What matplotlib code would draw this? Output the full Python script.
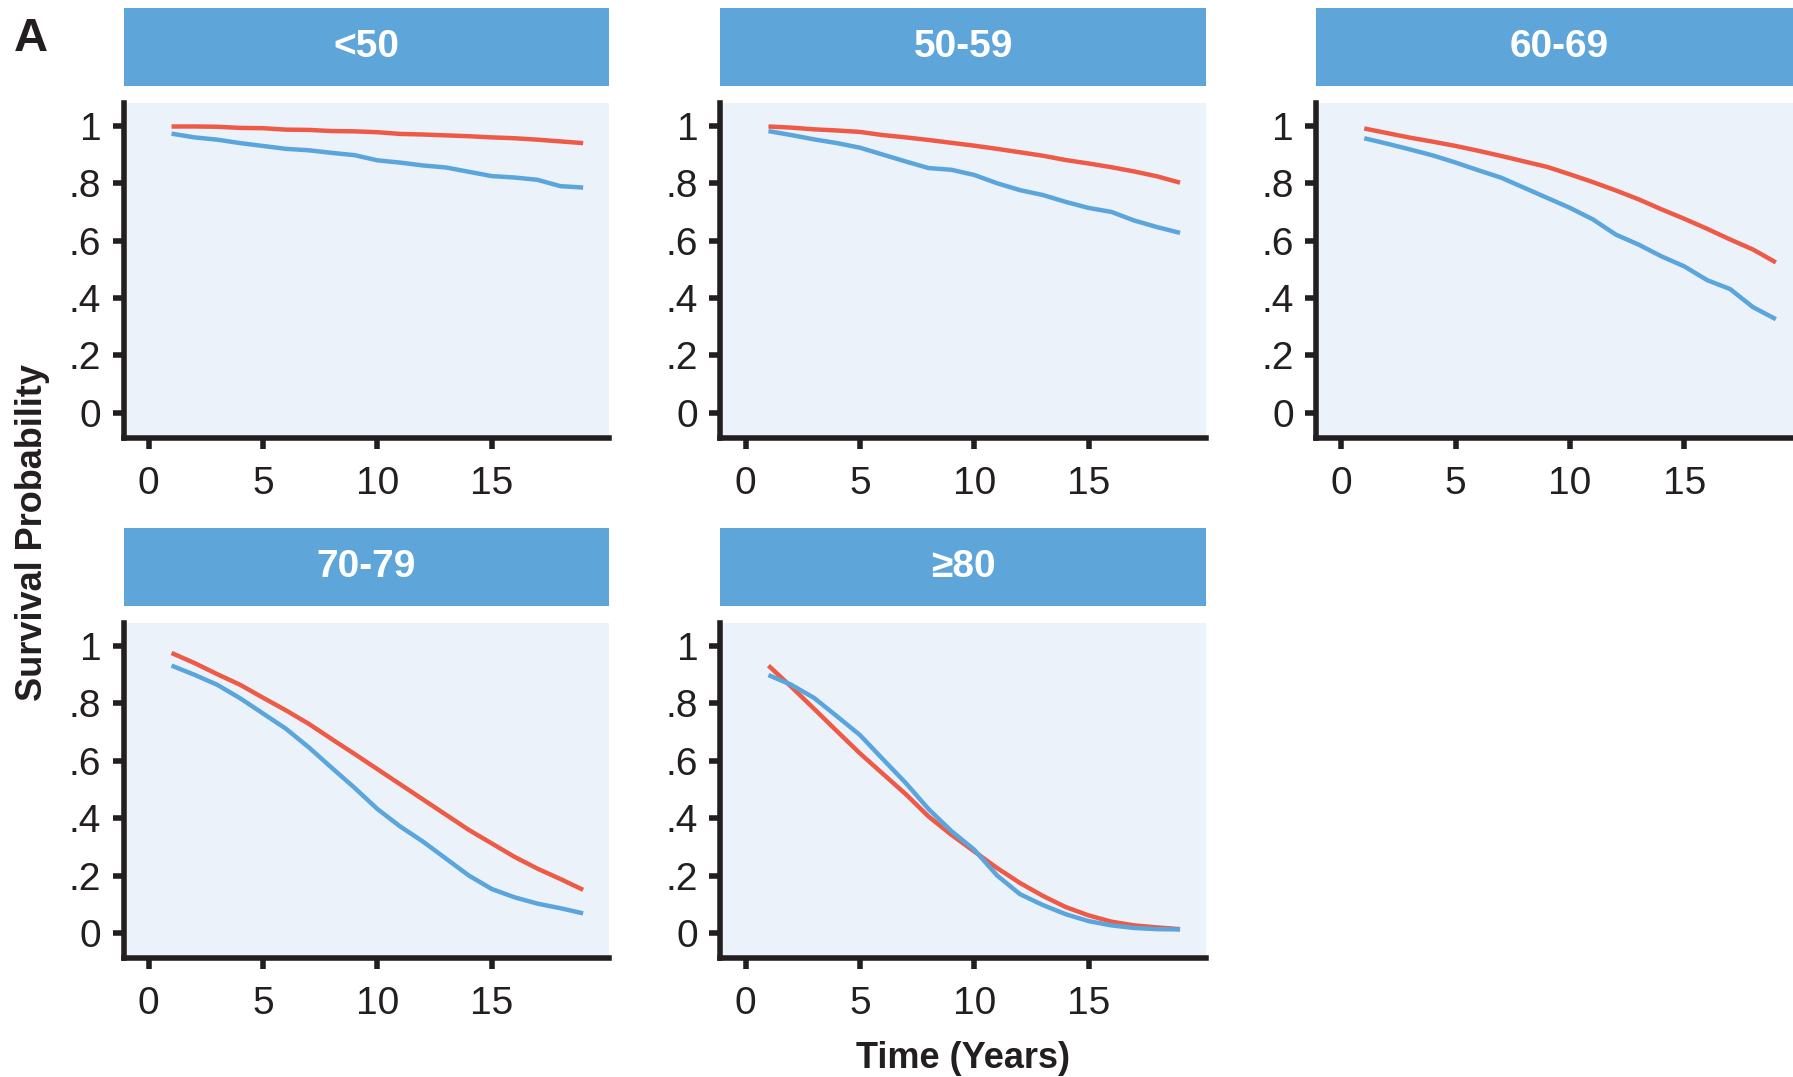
import matplotlib
matplotlib.use("Agg")
import matplotlib.pyplot as plt

# ---------------- data ----------------
panel_titles = ["<50", "50-59", "60-69", "70-79", "\u226580"]
years = [1, 2, 3, 4, 5, 6, 7, 8, 9, 10, 11, 12, 13, 14, 15, 16, 17, 18, 19]

red_lt50 = [0.998, 0.998, 0.997, 0.993, 0.992, 0.987, 0.986, 0.982, 0.981, 0.978,
            0.972, 0.970, 0.967, 0.964, 0.960, 0.957, 0.952, 0.946, 0.940]
blue_lt50 = [0.973, 0.960, 0.952, 0.940, 0.930, 0.920, 0.915, 0.906, 0.898, 0.880,
             0.872, 0.862, 0.855, 0.840, 0.825, 0.820, 0.812, 0.790, 0.785]

red_50s = [0.998, 0.994, 0.988, 0.984, 0.979, 0.968, 0.960, 0.951, 0.941, 0.931,
           0.920, 0.908, 0.896, 0.881, 0.869, 0.856, 0.841, 0.824, 0.802]
blue_50s = [0.982, 0.968, 0.953, 0.940, 0.924, 0.900, 0.876, 0.853, 0.847, 0.829,
            0.800, 0.776, 0.759, 0.735, 0.714, 0.700, 0.670, 0.647, 0.627]

red_60s = [0.991, 0.975, 0.959, 0.945, 0.930, 0.913, 0.895, 0.876, 0.857, 0.831,
           0.804, 0.775, 0.744, 0.709, 0.676, 0.641, 0.604, 0.569, 0.524]
blue_60s = [0.957, 0.938, 0.918, 0.897, 0.872, 0.845, 0.819, 0.784, 0.749, 0.714,
            0.674, 0.621, 0.586, 0.545, 0.510, 0.462, 0.431, 0.368, 0.326]

red_70s = [0.976, 0.941, 0.902, 0.865, 0.820, 0.776, 0.729, 0.676, 0.624, 0.571,
           0.518, 0.465, 0.412, 0.359, 0.312, 0.265, 0.224, 0.188, 0.150]
blue_70s = [0.932, 0.900, 0.865, 0.818, 0.765, 0.712, 0.647, 0.576, 0.506, 0.432,
            0.371, 0.318, 0.259, 0.200, 0.153, 0.124, 0.102, 0.086, 0.068]

red_80p = [0.932, 0.858, 0.781, 0.703, 0.626, 0.555, 0.484, 0.406, 0.342, 0.284,
           0.226, 0.174, 0.129, 0.090, 0.061, 0.039, 0.026, 0.019, 0.013]
blue_80p = [0.899, 0.865, 0.819, 0.755, 0.690, 0.606, 0.523, 0.432, 0.355, 0.290,
            0.200, 0.135, 0.097, 0.065, 0.041, 0.026, 0.017, 0.013, 0.012]

red_series = [red_lt50, red_50s, red_60s, red_70s, red_80p]
blue_series = [blue_lt50, blue_50s, blue_60s, blue_70s, blue_80p]

x_ticks = [0, 5, 10, 15]
x_ticklabels = ["0", "5", "10", "15"]
y_ticks = [0, 0.2, 0.4, 0.6, 0.8, 1.0]
y_ticklabels = ["0", ".2", ".4", ".6", ".8", "1"]

# ---------------- style ----------------
FONT = ["Liberation Sans Narrow", "Liberation Sans", "DejaVu Sans"]
plt.rcParams["font.family"] = FONT
HEADER = "#5EA6DA"
BG = "#EBF2FA"
RED = "#EE5A45"
BLUE = "#5AA5DC"
INK = "#231F20"

fig = plt.figure(figsize=(17.93, 10.77), dpi=100)

W = 0.2710
H = 0.3110
lefts = [0.0689, 0.4018, 0.7341]
row_bottoms = [0.5934, 0.1104]
hdr_gap = 0.0159
hdr_h = 0.0722

positions = [(lefts[0], row_bottoms[0]), (lefts[1], row_bottoms[0]), (lefts[2], row_bottoms[0]),
             (lefts[0], row_bottoms[1]), (lefts[1], row_bottoms[1])]

for i, (l, b) in enumerate(positions):
    ax = fig.add_axes([l, b, W, H])
    ax.set_facecolor(BG)
    ax.plot(years, red_series[i], color=RED, lw=3.2, solid_joinstyle="round",
            solid_capstyle="butt", zorder=3)
    ax.plot(years, blue_series[i], color=BLUE, lw=3.2, solid_joinstyle="round",
            solid_capstyle="butt", zorder=3)
    ax.set_xlim(-1.1, 20.15)
    ax.set_ylim(-0.088, 1.08)
    ax.set_xticks(x_ticks)
    ax.set_xticklabels(x_ticklabels)
    ax.set_yticks(y_ticks)
    ax.set_yticklabels(y_ticklabels)
    for s in ["top", "right"]:
        ax.spines[s].set_visible(False)
    for s in ["left", "bottom"]:
        ax.spines[s].set_linewidth(4)
        ax.spines[s].set_color(INK)
    ax.tick_params(axis="both", length=8, width=4, color=INK, labelsize=28,
                   labelcolor=INK)
    ax.tick_params(axis="x", pad=12)
    ax.tick_params(axis="y", pad=8)

    hax = fig.add_axes([l, b + H + hdr_gap, W, hdr_h])
    hax.set_facecolor(HEADER)
    hax.set_xticks([])
    hax.set_yticks([])
    for s in hax.spines.values():
        s.set_visible(False)
    hax.text(0.5, 0.5, panel_titles[i], color="white", fontsize=28, fontweight="bold",
             ha="center", va="center", transform=hax.transAxes)

fig.text(0.0077, 0.984, "A", fontsize=34, fontweight="bold", color=INK, ha="left", va="top")
fig.text(0.0179, 0.506, "Survival Probability", fontsize=26, fontweight="bold", color=INK,
         rotation=90, ha="center", va="center")
fig.text(0.537, 0.017, "Time (Years)", fontsize=26, fontweight="bold", color=INK,
         ha="center", va="center")

fig.savefig("out.png", dpi=100, facecolor="white")
